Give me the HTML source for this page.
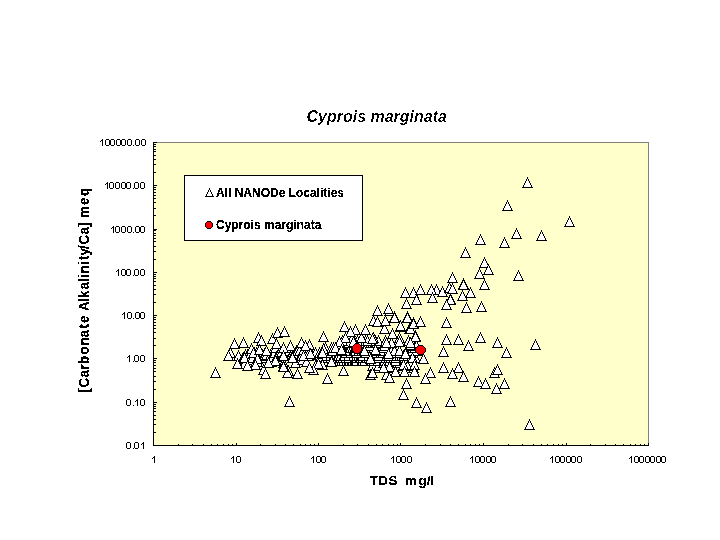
<!DOCTYPE html>
<html><head><meta charset="utf-8"><title>Cyprois marginata</title>
<style>
html,body{margin:0;padding:0;background:#fff;}
body{width:720px;height:540px;overflow:hidden;font-family:"Liberation Sans",sans-serif;}
svg{display:block;}
text{font-family:"Liberation Sans",sans-serif;fill:#000;}
.t{font-size:10px;letter-spacing:0.05px;}
.b{font-size:12px;font-weight:bold;}
.ti{font-size:16px;font-weight:bold;font-style:italic;}
</style></head><body>
<svg width="720" height="540" viewBox="0 0 720 540" shape-rendering="crispEdges">
<rect width="720" height="540" fill="#fff"/>
<rect x="153.5" y="142.5" width="495" height="303" fill="#ffffcc" stroke="#808080" stroke-width="1"/>
<path d="M153.5 142V446M153 445.5H649M153 445.5h4M153 432.5h3M153 424.5h3M153 419.5h3M153 415.5h3M153 411.5h3M153 408.5h3M153 406.5h3M153 404.5h3M153 402.5h4M153 389.5h3M153 381.5h3M153 376.5h3M153 371.5h3M153 368.5h3M153 365.5h3M153 362.5h3M153 360.5h3M153 358.5h4M153 345.5h3M153 338.5h3M153 332.5h3M153 328.5h3M153 325.5h3M153 322.5h3M153 319.5h3M153 317.5h3M153 315.5h4M153 302.5h3M153 294.5h3M153 289.5h3M153 285.5h3M153 281.5h3M153 278.5h3M153 276.5h3M153 274.5h3M153 272.5h4M153 259.5h3M153 251.5h3M153 246.5h3M153 241.5h3M153 238.5h3M153 235.5h3M153 233.5h3M153 230.5h3M153 229.5h4M153 215.5h3M153 208.5h3M153 202.5h3M153 198.5h3M153 195.5h3M153 192.5h3M153 189.5h3M153 187.5h3M153 185.5h4M153 172.5h3M153 164.5h3M153 159.5h3M153 155.5h3M153 151.5h3M153 149.5h3M153 146.5h3M153 144.5h3M153 142.5h4M153.5 446v-3M178.5 446v-2M192.5 446v-2M203.5 446v-2M211.5 446v-2M217.5 446v-2M223.5 446v-2M228.5 446v-2M232.5 446v-2M236.5 446v-3M260.5 446v-2M275.5 446v-2M285.5 446v-2M293.5 446v-2M300.5 446v-2M305.5 446v-2M310.5 446v-2M314.5 446v-2M318.5 446v-3M343.5 446v-2M357.5 446v-2M368.5 446v-2M376.5 446v-2M382.5 446v-2M388.5 446v-2M393.5 446v-2M397.5 446v-2M400.5 446v-3M425.5 446v-2M440.5 446v-2M450.5 446v-2M458.5 446v-2M465.5 446v-2M470.5 446v-2M475.5 446v-2M479.5 446v-2M483.5 446v-3M508.5 446v-2M522.5 446v-2M533.5 446v-2M541.5 446v-2M547.5 446v-2M553.5 446v-2M558.5 446v-2M562.5 446v-2M566.5 446v-3M590.5 446v-2M605.5 446v-2M615.5 446v-2M623.5 446v-2M630.5 446v-2M635.5 446v-2M640.5 446v-2M644.5 446v-2M648.5 446v-3" stroke="#000" stroke-width="1" fill="none"/>
<defs><g id="m"><path fill="#fff" d="M0 -3h1v2h-1zM-1 -1h3v2h-3zM-2 1h5v2h-5zM-3 3h7v2h-7z"/><path fill="#000" d="M0 -5h1v2h-1zM-1 -3h1v2h-1zM1 -3h1v2h-1zM-2 -1h1v2h-1zM2 -1h1v2h-1zM-3 1h1v2h-1zM3 1h1v2h-1zM-4 3h1v2h-1zM4 3h1v2h-1zM-5 5h11v1h-11z"/></g><g id="m4"><path fill="#fff" d="M0 -2h1v2h-1zM-1 0h3v2h-3zM-2 2h5v2h-5z"/><path fill="#000" d="M0 -4h1v2h-1zM-1 -2h1v2h-1zM1 -2h1v2h-1zM-2 0h1v2h-1zM2 0h1v2h-1zM-3 2h1v2h-1zM3 2h1v2h-1zM-4 4h9v1h-9z"/></g></defs>
<g><use href="#m" x="238" y="355"/><use href="#m" x="242" y="358"/><use href="#m" x="243" y="357"/><use href="#m" x="244" y="363"/><use href="#m" x="245" y="354"/><use href="#m" x="247" y="354"/><use href="#m" x="248" y="356"/><use href="#m" x="250" y="353"/><use href="#m" x="251" y="359"/><use href="#m" x="252" y="357"/><use href="#m" x="254" y="352"/><use href="#m" x="255" y="361"/><use href="#m" x="256" y="352"/><use href="#m" x="257" y="361"/><use href="#m" x="259" y="356"/><use href="#m" x="260" y="357"/><use href="#m" x="262" y="357"/><use href="#m" x="262" y="354"/><use href="#m" x="264" y="353"/><use href="#m" x="264" y="355"/><use href="#m" x="266" y="354"/><use href="#m" x="268" y="362"/><use href="#m" x="270" y="354"/><use href="#m" x="271" y="361"/><use href="#m" x="272" y="356"/><use href="#m" x="273" y="352"/><use href="#m" x="274" y="352"/><use href="#m" x="275" y="347"/><use href="#m" x="276" y="356"/><use href="#m" x="278" y="353"/><use href="#m" x="279" y="352"/><use href="#m" x="281" y="351"/><use href="#m" x="283" y="362"/><use href="#m" x="285" y="354"/><use href="#m" x="286" y="355"/><use href="#m" x="287" y="352"/><use href="#m" x="288" y="352"/><use href="#m" x="289" y="350"/><use href="#m" x="290" y="355"/><use href="#m" x="291" y="354"/><use href="#m" x="293" y="353"/><use href="#m" x="295" y="362"/><use href="#m" x="296" y="350"/><use href="#m" x="297" y="350"/><use href="#m" x="299" y="350"/><use href="#m" x="301" y="355"/><use href="#m" x="302" y="359"/><use href="#m" x="303" y="349"/><use href="#m" x="304" y="353"/><use href="#m" x="306" y="361"/><use href="#m" x="307" y="352"/><use href="#m" x="308" y="355"/><use href="#m" x="309" y="351"/><use href="#m" x="311" y="351"/><use href="#m" x="312" y="351"/><use href="#m" x="313" y="353"/><use href="#m" x="315" y="352"/><use href="#m" x="315" y="352"/><use href="#m" x="316" y="363"/><use href="#m" x="318" y="354"/><use href="#m" x="319" y="352"/><use href="#m" x="320" y="356"/><use href="#m" x="321" y="352"/><use href="#m" x="324" y="353"/><use href="#m" x="377" y="367"/><use href="#m" x="384" y="367"/><use href="#m" x="394" y="367"/><use href="#m" x="413" y="367"/><use href="#m" x="372" y="365"/><use href="#m" x="378" y="365"/><use href="#m" x="388" y="365"/><use href="#m" x="395" y="365"/><use href="#m" x="400" y="365"/><use href="#m" x="407" y="365"/><use href="#m" x="383" y="362"/><use href="#m" x="386" y="362"/><use href="#m" x="386" y="362"/><use href="#m" x="397" y="362"/><use href="#m" x="331" y="360"/><use href="#m" x="331" y="360"/><use href="#m" x="332" y="360"/><use href="#m" x="335" y="360"/><use href="#m" x="339" y="360"/><use href="#m" x="341" y="360"/><use href="#m" x="341" y="360"/><use href="#m" x="343" y="360"/><use href="#m" x="346" y="360"/><use href="#m" x="348" y="360"/><use href="#m" x="349" y="360"/><use href="#m" x="351" y="360"/><use href="#m" x="351" y="360"/><use href="#m" x="352" y="360"/><use href="#m" x="354" y="360"/><use href="#m" x="354" y="360"/><use href="#m" x="355" y="360"/><use href="#m" x="356" y="360"/><use href="#m" x="361" y="360"/><use href="#m" x="361" y="360"/><use href="#m" x="362" y="360"/><use href="#m" x="364" y="360"/><use href="#m" x="364" y="360"/><use href="#m" x="370" y="360"/><use href="#m" x="371" y="360"/><use href="#m" x="373" y="360"/><use href="#m" x="377" y="360"/><use href="#m" x="383" y="360"/><use href="#m" x="384" y="360"/><use href="#m" x="389" y="360"/><use href="#m" x="395" y="360"/><use href="#m" x="326" y="357"/><use href="#m" x="330" y="357"/><use href="#m" x="333" y="357"/><use href="#m" x="335" y="357"/><use href="#m" x="339" y="357"/><use href="#m" x="340" y="357"/><use href="#m" x="342" y="357"/><use href="#m" x="345" y="357"/><use href="#m" x="348" y="357"/><use href="#m" x="354" y="357"/><use href="#m" x="355" y="357"/><use href="#m" x="356" y="357"/><use href="#m" x="356" y="357"/><use href="#m" x="359" y="357"/><use href="#m" x="360" y="357"/><use href="#m" x="360" y="357"/><use href="#m" x="362" y="357"/><use href="#m" x="365" y="357"/><use href="#m" x="366" y="357"/><use href="#m" x="368" y="357"/><use href="#m" x="372" y="357"/><use href="#m" x="373" y="357"/><use href="#m" x="377" y="357"/><use href="#m" x="388" y="357"/><use href="#m" x="390" y="357"/><use href="#m" x="393" y="357"/><use href="#m" x="395" y="357"/><use href="#m" x="415" y="357"/><use href="#m" x="326" y="355"/><use href="#m" x="330" y="355"/><use href="#m" x="333" y="355"/><use href="#m" x="335" y="355"/><use href="#m" x="337" y="355"/><use href="#m" x="338" y="355"/><use href="#m" x="340" y="355"/><use href="#m" x="343" y="355"/><use href="#m" x="344" y="355"/><use href="#m" x="348" y="355"/><use href="#m" x="353" y="355"/><use href="#m" x="356" y="355"/><use href="#m" x="358" y="355"/><use href="#m" x="360" y="355"/><use href="#m" x="361" y="355"/><use href="#m" x="362" y="355"/><use href="#m" x="362" y="355"/><use href="#m" x="368" y="355"/><use href="#m" x="371" y="355"/><use href="#m" x="372" y="355"/><use href="#m" x="375" y="355"/><use href="#m" x="376" y="355"/><use href="#m" x="377" y="355"/><use href="#m" x="378" y="355"/><use href="#m" x="388" y="355"/><use href="#m" x="399" y="355"/><use href="#m" x="401" y="355"/><use href="#m" x="403" y="355"/><use href="#m" x="327" y="352"/><use href="#m" x="345" y="352"/><use href="#m" x="345" y="352"/><use href="#m" x="350" y="352"/><use href="#m" x="355" y="352"/><use href="#m" x="356" y="352"/><use href="#m" x="365" y="352"/><use href="#m" x="374" y="352"/><use href="#m" x="376" y="352"/><use href="#m" x="380" y="352"/><use href="#m" x="382" y="352"/><use href="#m" x="387" y="352"/><use href="#m" x="392" y="352"/><use href="#m" x="399" y="352"/><use href="#m" x="405" y="352"/><use href="#m" x="408" y="352"/><use href="#m" x="411" y="352"/><use href="#m" x="331" y="350"/><use href="#m" x="332" y="350"/><use href="#m" x="342" y="350"/><use href="#m" x="344" y="350"/><use href="#m" x="345" y="350"/><use href="#m" x="354" y="350"/><use href="#m" x="355" y="350"/><use href="#m" x="358" y="350"/><use href="#m" x="361" y="350"/><use href="#m" x="363" y="350"/><use href="#m" x="364" y="350"/><use href="#m" x="365" y="350"/><use href="#m" x="367" y="350"/><use href="#m" x="377" y="350"/><use href="#m" x="380" y="350"/><use href="#m" x="390" y="350"/><use href="#m" x="391" y="350"/><use href="#m" x="394" y="350"/><use href="#m" x="399" y="350"/><use href="#m" x="410" y="350"/><use href="#m" x="411" y="350"/><use href="#m" x="416" y="350"/><use href="#m" x="325" y="347"/><use href="#m" x="331" y="347"/><use href="#m" x="333" y="347"/><use href="#m" x="343" y="347"/><use href="#m" x="344" y="347"/><use href="#m" x="344" y="347"/><use href="#m" x="346" y="347"/><use href="#m" x="347" y="347"/><use href="#m" x="348" y="347"/><use href="#m" x="349" y="347"/><use href="#m" x="350" y="347"/><use href="#m" x="352" y="347"/><use href="#m" x="354" y="347"/><use href="#m" x="355" y="347"/><use href="#m" x="356" y="347"/><use href="#m" x="361" y="347"/><use href="#m" x="362" y="347"/><use href="#m" x="363" y="347"/><use href="#m" x="363" y="347"/><use href="#m" x="366" y="347"/><use href="#m" x="370" y="347"/><use href="#m" x="373" y="347"/><use href="#m" x="383" y="347"/><use href="#m" x="383" y="347"/><use href="#m" x="414" y="347"/><use href="#m" x="338" y="345"/><use href="#m" x="364" y="345"/><use href="#m" x="366" y="345"/><use href="#m" x="369" y="345"/><use href="#m" x="384" y="345"/><use href="#m" x="416" y="345"/><use href="#m" x="347" y="342"/><use href="#m" x="372" y="342"/><use href="#m" x="374" y="342"/><use href="#m" x="375" y="342"/><use href="#m" x="376" y="342"/><use href="#m" x="391" y="342"/><use href="#m" x="342" y="340"/><use href="#m" x="357" y="340"/><use href="#m" x="365" y="340"/><use href="#m" x="367" y="340"/><use href="#m" x="375" y="340"/><use href="#m" x="378" y="340"/><use href="#m" x="385" y="340"/><use href="#m" x="408" y="340"/><use href="#m" x="352" y="337"/><use href="#m" x="361" y="337"/><use href="#m" x="373" y="337"/><use href="#m" x="399" y="337"/><use href="#m" x="215" y="372"/><use href="#m" x="234" y="343"/><use href="#m" x="243" y="342"/><use href="#m" x="230" y="352"/><use href="#m" x="228" y="355"/><use href="#m" x="237" y="363"/><use href="#m" x="244" y="357"/><use href="#m" x="251" y="348"/><use href="#m" x="253" y="352"/><use href="#m" x="258" y="337"/><use href="#m" x="261" y="340"/><use href="#m" x="257" y="358"/><use href="#m" x="259" y="349"/><use href="#m" x="266" y="350"/><use href="#m" x="255" y="364"/><use href="#m" x="247" y="365"/><use href="#m" x="272" y="338"/><use href="#m" x="277" y="332"/><use href="#m" x="284" y="331"/><use href="#m" x="276" y="343"/><use href="#m" x="275" y="360"/><use href="#m" x="283" y="354"/><use href="#m" x="283" y="365"/><use href="#m" x="288" y="370"/><use href="#m" x="263" y="369"/><use href="#m" x="268" y="362"/><use href="#m" x="265" y="373"/><use href="#m" x="301" y="342"/><use href="#m" x="309" y="344"/><use href="#m" x="305" y="345"/><use href="#m" x="323" y="336"/><use href="#m" x="323" y="348"/><use href="#m" x="344" y="326"/><use href="#m" x="355" y="329"/><use href="#m" x="365" y="329"/><use href="#m" x="350" y="331"/><use href="#m" x="345" y="337"/><use href="#m" x="339" y="341"/><use href="#m" x="353" y="341"/><use href="#m" x="335" y="347"/><use href="#m" x="341" y="349"/><use href="#m" x="290" y="345"/><use href="#m" x="283" y="347"/><use href="#m" x="363" y="350"/><use href="#m" x="283" y="355"/><use href="#m" x="292" y="357"/><use href="#m" x="303" y="355"/><use href="#m" x="310" y="353"/><use href="#m" x="322" y="352"/><use href="#m" x="331" y="361"/><use href="#m" x="322" y="364"/><use href="#m" x="318" y="363"/><use href="#m" x="313" y="369"/><use href="#m" x="309" y="367"/><use href="#m" x="297" y="373"/><use href="#m" x="287" y="372"/><use href="#m" x="283" y="366"/><use href="#m" x="343" y="370"/><use href="#m" x="327" y="378"/><use href="#m" x="370" y="374"/><use href="#m" x="377" y="310"/><use href="#m" x="389" y="310"/><use href="#m" x="407" y="316"/><use href="#m" x="394" y="316"/><use href="#m" x="385" y="320"/><use href="#m" x="373" y="320"/><use href="#m" x="377" y="321"/><use href="#m" x="413" y="322"/><use href="#m" x="420" y="321"/><use href="#m" x="400" y="326"/><use href="#m" x="384" y="328"/><use href="#m" x="409" y="328"/><use href="#m" x="392" y="333"/><use href="#m" x="415" y="335"/><use href="#m" x="372" y="338"/><use href="#m" x="386" y="342"/><use href="#m" x="399" y="341"/><use href="#m" x="410" y="344"/><use href="#m" x="375" y="349"/><use href="#m" x="364" y="350"/><use href="#m" x="388" y="353"/><use href="#m" x="405" y="352"/><use href="#m" x="412" y="357"/><use href="#m" x="423" y="358"/><use href="#m" x="370" y="358"/><use href="#m" x="403" y="364"/><use href="#m" x="414" y="364"/><use href="#m" x="389" y="366"/><use href="#m" x="430" y="372"/><use href="#m" x="372" y="372"/><use href="#m" x="386" y="374"/><use href="#m" x="404" y="371"/><use href="#m" x="414" y="371"/><use href="#m" x="395" y="371"/><use href="#m" x="425" y="378"/><use href="#m" x="389" y="377"/><use href="#m" x="383" y="367"/><use href="#m" x="388" y="308"/><use href="#m" x="394" y="317"/><use href="#m" x="385" y="320"/><use href="#m" x="400" y="325"/><use href="#m" x="410" y="328"/><use href="#m" x="407" y="317"/><use href="#m" x="413" y="323"/><use href="#m" x="420" y="321"/><use href="#m" x="415" y="336"/><use href="#m" x="410" y="342"/><use href="#m" x="405" y="353"/><use href="#m" x="405" y="292"/><use href="#m" x="413" y="292"/><use href="#m" x="420" y="289"/><use href="#m" x="436" y="289"/><use href="#m" x="431" y="289"/><use href="#m" x="442" y="291"/><use href="#m" x="449" y="287"/><use href="#m" x="452" y="288"/><use href="#m" x="416" y="299"/><use href="#m" x="406" y="303"/><use href="#m" x="432" y="297"/><use href="#m" x="450" y="298"/><use href="#m" x="450" y="299"/><use href="#m" x="446" y="304"/><use href="#m" x="462" y="295"/><use href="#m" x="470" y="292"/><use href="#m" x="463" y="283"/><use href="#m" x="463" y="284"/><use href="#m" x="452" y="277"/><use href="#m" x="466" y="307"/><use href="#m" x="481" y="306"/><use href="#m" x="527" y="182"/><use href="#m" x="507" y="205"/><use href="#m" x="569" y="221"/><use href="#m" x="516" y="233"/><use href="#m" x="541" y="235"/><use href="#m" x="480" y="239"/><use href="#m" x="504" y="242"/><use href="#m" x="465" y="252"/><use href="#m" x="484" y="262"/><use href="#m" x="488" y="269"/><use href="#m" x="479" y="273"/><use href="#m" x="518" y="275"/><use href="#m" x="484" y="284"/><use href="#m" x="446" y="322"/><use href="#m" x="446" y="339"/><use href="#m" x="458" y="339"/><use href="#m" x="480" y="337"/><use href="#m" x="468" y="345"/><use href="#m" x="497" y="342"/><use href="#m" x="506" y="352"/><use href="#m" x="535" y="344"/><use href="#m" x="443" y="351"/><use href="#m" x="443" y="367"/><use href="#m" x="458" y="367"/><use href="#m" x="452" y="373"/><use href="#m" x="463" y="376"/><use href="#m" x="494" y="372"/><use href="#m" x="497" y="369"/><use href="#m" x="478" y="381"/><use href="#m" x="485" y="383"/><use href="#m" x="504" y="383"/><use href="#m" x="496" y="388"/><use href="#m" x="450" y="401"/><use href="#m" x="529" y="424"/><use href="#m" x="406" y="383"/><use href="#m" x="403" y="394"/><use href="#m" x="416" y="402"/><use href="#m" x="426" y="407"/><use href="#m" x="289" y="401"/></g>
<path fill="#f00" d="M355 344h4v1h-4zM354 345h6v1h-6zM353 346h8v1h-8zM353 347h8v1h-8zM353 348h8v1h-8zM353 349h8v1h-8zM353 350h8v1h-8zM354 351h6v1h-6zM355 352h4v1h-4z"/><path fill="#000" d="M355 343h4v1h-4zM354 344h1v1h-1zM359 344h1v1h-1zM353 345h1v1h-1zM360 345h1v1h-1zM352 346h1v1h-1zM361 346h1v1h-1zM352 347h1v1h-1zM361 347h1v1h-1zM352 348h1v1h-1zM361 348h1v1h-1zM352 349h1v1h-1zM361 349h1v1h-1zM352 350h1v1h-1zM361 350h1v1h-1zM353 351h1v1h-1zM360 351h1v1h-1zM354 352h1v1h-1zM359 352h1v1h-1zM355 353h4v1h-4z"/>
<path fill="#f00" d="M418 346h5v1h-5zM417 347h7v1h-7zM416 348h9v1h-9zM416 349h9v1h-9zM416 350h9v1h-9zM416 351h9v1h-9zM417 352h7v1h-7zM418 353h5v1h-5z"/><path fill="#000" d="M418 345h5v1h-5zM417 346h1v1h-1zM423 346h1v1h-1zM416 347h1v1h-1zM424 347h1v1h-1zM415 348h1v1h-1zM425 348h1v1h-1zM415 349h1v1h-1zM425 349h1v1h-1zM415 350h1v1h-1zM425 350h1v1h-1zM415 351h1v1h-1zM425 351h1v1h-1zM416 352h1v1h-1zM424 352h1v1h-1zM417 353h1v1h-1zM423 353h1v1h-1zM418 354h5v1h-5z"/>
<rect x="184.5" y="175.5" width="178" height="65" fill="#fff" stroke="#000" stroke-width="1"/>
<use href="#m4" x="209" y="192"/>
<path fill="#f00" d="M207 222h4v1h-4zM206 223h6v1h-6zM206 224h6v1h-6zM206 225h6v1h-6zM206 226h6v1h-6zM207 227h4v1h-4z"/><path fill="#000" d="M207 221h4v1h-4zM206 222h1v1h-1zM211 222h1v1h-1zM205 223h1v1h-1zM212 223h1v1h-1zM205 224h1v1h-1zM212 224h1v1h-1zM205 225h1v1h-1zM212 225h1v1h-1zM205 226h1v1h-1zM212 226h1v1h-1zM206 227h1v1h-1zM211 227h1v1h-1zM207 228h4v1h-4z"/>
<path fill="#000" d="M102 139h1v7h-1zM101 140h1v1h-1zM100 141h1v1h-1zM106 139h3v1h-3zM105 140h1v5h-1zM109 140h1v5h-1zM106 145h3v1h-3zM111 139h3v1h-3zM110 140h1v5h-1zM114 140h1v5h-1zM111 145h3v1h-3zM117 139h3v1h-3zM116 140h1v5h-1zM120 140h1v5h-1zM117 145h3v1h-3zM122 139h3v1h-3zM121 140h1v5h-1zM125 140h1v5h-1zM122 145h3v1h-3zM128 139h3v1h-3zM127 140h1v5h-1zM131 140h1v5h-1zM128 145h3v1h-3zM133 145h1v1h-1zM136 139h3v1h-3zM135 140h1v5h-1zM139 140h1v5h-1zM136 145h3v1h-3zM142 139h3v1h-3zM141 140h1v5h-1zM145 140h1v5h-1zM142 145h3v1h-3zM107 182h1v7h-1zM106 183h1v1h-1zM105 184h1v1h-1zM110 182h3v1h-3zM109 183h1v5h-1zM113 183h1v5h-1zM110 188h3v1h-3zM116 182h3v1h-3zM115 183h1v5h-1zM119 183h1v5h-1zM116 188h3v1h-3zM122 182h3v1h-3zM121 183h1v5h-1zM125 183h1v5h-1zM122 188h3v1h-3zM127 182h3v1h-3zM126 183h1v5h-1zM130 183h1v5h-1zM127 188h3v1h-3zM133 188h1v1h-1zM135 182h3v1h-3zM134 183h1v5h-1zM138 183h1v5h-1zM135 188h3v1h-3zM141 182h3v1h-3zM140 183h1v5h-1zM144 183h1v5h-1zM141 188h3v1h-3zM113 226h1v7h-1zM112 227h1v1h-1zM111 228h1v1h-1zM116 226h3v1h-3zM115 227h1v5h-1zM119 227h1v5h-1zM116 232h3v1h-3zM122 226h3v1h-3zM121 227h1v5h-1zM125 227h1v5h-1zM122 232h3v1h-3zM128 226h3v1h-3zM127 227h1v5h-1zM131 227h1v5h-1zM128 232h3v1h-3zM133 232h1v1h-1zM136 226h3v1h-3zM135 227h1v5h-1zM139 227h1v5h-1zM136 232h3v1h-3zM141 226h3v1h-3zM140 227h1v5h-1zM144 227h1v5h-1zM141 232h3v1h-3zM118 269h1v7h-1zM117 270h1v1h-1zM116 271h1v1h-1zM122 269h3v1h-3zM121 270h1v5h-1zM125 270h1v5h-1zM122 275h3v1h-3zM127 269h3v1h-3zM126 270h1v5h-1zM130 270h1v5h-1zM127 275h3v1h-3zM133 275h1v1h-1zM135 269h3v1h-3zM134 270h1v5h-1zM138 270h1v5h-1zM135 275h3v1h-3zM141 269h3v1h-3zM140 270h1v5h-1zM144 270h1v5h-1zM141 275h3v1h-3zM124 312h1v7h-1zM123 313h1v1h-1zM122 314h1v1h-1zM128 312h3v1h-3zM127 313h1v5h-1zM131 313h1v5h-1zM128 318h3v1h-3zM133 318h1v1h-1zM136 312h3v1h-3zM135 313h1v5h-1zM139 313h1v5h-1zM136 318h3v1h-3zM141 312h3v1h-3zM140 313h1v5h-1zM144 313h1v5h-1zM141 318h3v1h-3zM129 355h1v7h-1zM128 356h1v1h-1zM127 357h1v1h-1zM133 361h1v1h-1zM135 355h3v1h-3zM134 356h1v5h-1zM138 356h1v5h-1zM135 361h3v1h-3zM141 355h3v1h-3zM140 356h1v5h-1zM144 356h1v5h-1zM141 361h3v1h-3zM127 399h3v1h-3zM126 400h1v5h-1zM130 400h1v5h-1zM127 405h3v1h-3zM133 405h1v1h-1zM137 399h1v7h-1zM136 400h1v1h-1zM135 401h1v1h-1zM141 399h3v1h-3zM140 400h1v5h-1zM144 400h1v5h-1zM141 405h3v1h-3zM127 442h3v1h-3zM126 443h1v5h-1zM130 443h1v5h-1zM127 448h3v1h-3zM133 448h1v1h-1zM135 442h3v1h-3zM134 443h1v5h-1zM138 443h1v5h-1zM135 448h3v1h-3zM143 442h1v7h-1zM142 443h1v1h-1zM141 444h1v1h-1zM154 456h1v7h-1zM153 457h1v1h-1zM152 458h1v1h-1zM233 456h1v7h-1zM232 457h1v1h-1zM231 458h1v1h-1zM237 456h3v1h-3zM236 457h1v5h-1zM240 457h1v5h-1zM237 462h3v1h-3zM313 456h1v7h-1zM312 457h1v1h-1zM311 458h1v1h-1zM317 456h3v1h-3zM316 457h1v5h-1zM320 457h1v5h-1zM317 462h3v1h-3zM322 456h3v1h-3zM321 457h1v5h-1zM325 457h1v5h-1zM322 462h3v1h-3zM393 456h1v7h-1zM392 457h1v1h-1zM391 458h1v1h-1zM397 456h3v1h-3zM396 457h1v5h-1zM400 457h1v5h-1zM397 462h3v1h-3zM402 456h3v1h-3zM401 457h1v5h-1zM405 457h1v5h-1zM402 462h3v1h-3zM408 456h3v1h-3zM407 457h1v5h-1zM411 457h1v5h-1zM408 462h3v1h-3zM472 456h1v7h-1zM471 457h1v1h-1zM470 458h1v1h-1zM476 456h3v1h-3zM475 457h1v5h-1zM479 457h1v5h-1zM476 462h3v1h-3zM481 456h3v1h-3zM480 457h1v5h-1zM484 457h1v5h-1zM481 462h3v1h-3zM487 456h3v1h-3zM486 457h1v5h-1zM490 457h1v5h-1zM487 462h3v1h-3zM492 456h3v1h-3zM491 457h1v5h-1zM495 457h1v5h-1zM492 462h3v1h-3zM552 456h1v7h-1zM551 457h1v1h-1zM550 458h1v1h-1zM556 456h3v1h-3zM555 457h1v5h-1zM559 457h1v5h-1zM556 462h3v1h-3zM561 456h3v1h-3zM560 457h1v5h-1zM564 457h1v5h-1zM561 462h3v1h-3zM567 456h3v1h-3zM566 457h1v5h-1zM570 457h1v5h-1zM567 462h3v1h-3zM572 456h3v1h-3zM571 457h1v5h-1zM575 457h1v5h-1zM572 462h3v1h-3zM578 456h3v1h-3zM577 457h1v5h-1zM581 457h1v5h-1zM578 462h3v1h-3zM631 456h1v7h-1zM630 457h1v1h-1zM629 458h1v1h-1zM635 456h3v1h-3zM634 457h1v5h-1zM638 457h1v5h-1zM635 462h3v1h-3zM640 456h3v1h-3zM639 457h1v5h-1zM643 457h1v5h-1zM640 462h3v1h-3zM646 456h3v1h-3zM645 457h1v5h-1zM649 457h1v5h-1zM646 462h3v1h-3zM651 456h3v1h-3zM650 457h1v5h-1zM654 457h1v5h-1zM651 462h3v1h-3zM657 456h3v1h-3zM656 457h1v5h-1zM660 457h1v5h-1zM657 462h3v1h-3zM662 456h3v1h-3zM661 457h1v5h-1zM665 457h1v5h-1zM662 462h3v1h-3z"/>
<defs>
<filter id="bt" filterUnits="userSpaceOnUse" x="0" y="0" width="720" height="540" color-interpolation-filters="sRGB"><feComponentTransfer><feFuncA type="discrete" tableValues="0 0 1 1 1"/></feComponentTransfer></filter>
<filter id="bb" filterUnits="userSpaceOnUse" x="0" y="0" width="720" height="540" color-interpolation-filters="sRGB"><feComponentTransfer><feFuncA type="discrete" tableValues="0 0 0 1 1 1 1 1"/></feComponentTransfer></filter>
<filter id="bi" filterUnits="userSpaceOnUse" x="0" y="0" width="720" height="540" color-interpolation-filters="sRGB"><feComponentTransfer><feFuncA type="discrete" tableValues="0 0 0 1 1"/></feComponentTransfer></filter>
</defs>
<g shape-rendering="auto" filter="url(#bt)">

</g>
<g shape-rendering="auto" filter="url(#bb)">
<text x="216" y="197" class="b">All NANODe Localities</text>
<text x="216" y="228.5" class="b">Cyprois marginata</text>
<text y="485" class="b" style="font-size:13.33px"><tspan x="369.8">T</tspan><tspan x="378.2">D</tspan><tspan x="388.4">S</tspan><tspan x="405.1">m</tspan><tspan x="418.4">g</tspan><tspan x="426.8">/</tspan><tspan x="430">l</tspan></text>
<text transform="translate(89 392) rotate(-90) scale(1 1.1)" class="b" style="font-size:13.33px" x="-0.50 4.50 14.50 22.50 28.00 37.50 46.50 54.50 63.50 69.00 74.00 81.00 90.00 94.00 102.50 110.00 114.00 118.50 127.00 132.00 136.50 143.00 147.50 157.50 165.00 170.00 174.00 187.00 196.00" xml:space="preserve">[Carbonate Alkalinity/Ca] meq</text>
</g>
<g shape-rendering="auto" filter="url(#bi)">
<text x="376.7" y="121.5" text-anchor="middle" class="ti">Cyprois marginata</text>
</g>
</svg>
</body></html>
